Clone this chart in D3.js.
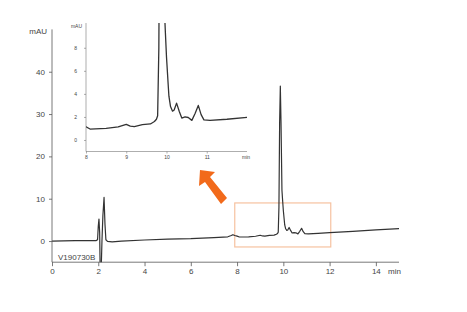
<!DOCTYPE html>
<html>
<head>
<meta charset="utf-8">
<script src="https://cdn.jsdelivr.net/npm/d3@7/dist/d3.min.js"></script>
<style>
  body { margin: 0; background: #fff; }
  text { font-family: "Liberation Sans", Arial, sans-serif; fill: #444; }
</style>
</head>
<body>
<script>
// retention time (min) and absorbance (mAU)
var time = [0, 0.5, 1.0, 1.5, 1.9, 1.97, 2.0, 2.03, 2.06, 2.08, 2.13, 2.16, 2.2, 2.25, 2.29, 2.33,
    2.4, 2.6, 3.0, 4.0, 5.0, 6.0, 7.0, 7.6, 7.75, 7.82, 7.9, 8.0, 8.1, 8.5, 8.8, 9.0, 9.1, 9.2,
    9.4, 9.6, 9.7, 9.75, 9.78, 9.81, 9.84, 9.87, 9.9, 9.94, 9.97, 10.0, 10.04, 10.06, 10.1,
    10.15, 10.19, 10.25, 10.32, 10.38, 10.46, 10.54, 10.63, 10.71, 10.79, 10.86, 10.93,
    11.08, 11.5, 12.0, 13.0, 14.0, 15.0];
var mAU = [0.0, 0.05, 0.1, 0.1, 0.1, 0.3, 3.5, 5.2, 2.0, -6, -6, 0.0, 6.0, 10.3, 4.0, 0.3,
    -0.1, -0.2, 0.0, 0.25, 0.45, 0.55, 0.8, 1.0, 1.3, 1.5, 1.3, 1.15, 0.95, 1.0, 1.13, 1.36, 1.2, 1.15,
    1.33, 1.39, 1.6, 1.8, 2.1, 8, 28, 36.6, 28, 12, 9.5, 7.2, 4.9, 3.8, 2.9,
    2.5, 2.6, 3.2, 2.45, 1.9, 2.0, 1.95, 1.7, 2.3, 3.0, 2.2, 1.74,
    1.7, 1.8, 1.97, 2.3, 2.65, 2.95];

var xTicksMain = [0, 2, 4, 6, 8, 10, 12, 14];
var yTicksMain = [0, 10, 20, 30, 40];
var xTicksInset = [8, 9, 10, 11];
var yTicksInset = [0, 2, 4, 6, 8];
var zoomX = [7.9, 12.05];
var zoomY = [-1.4, 9];
var sampleName = "V190730B";

var w = 467;
var h = 312;

var svg = d3.select("body")
    .append("svg")
    .attr("width", w)
    .attr("height", h);

var data = time.map(function (t, i) { return [t, mAU[i]]; });

// main chromatogram
var xScale = d3.scaleLinear().domain([0, 15]).range([52, 399]);
var yScale = d3.scaleLinear().domain([-5, 50]).range([262.2, 29.4]);

svg.append("clipPath").attr("id", "clipMain")
    .append("rect")
    .attr("x", 52).attr("y", 29.4)
    .attr("width", 347).attr("height", 232.8);

// zoom box
svg.append("rect")
    .attr("x", xScale(zoomX[0]))
    .attr("y", yScale(zoomY[1]))
    .attr("width", xScale(zoomX[1]) - xScale(zoomX[0]))
    .attr("height", yScale(zoomY[0]) - yScale(zoomY[1]))
    .attr("fill", "none")
    .attr("stroke", "#f6c2a0")
    .attr("stroke-width", 1.2);

var line = d3.line()
    .x(function (d) { return xScale(d[0]); })
    .y(function (d) { return yScale(d[1]); });

svg.append("path")
    .datum(data)
    .attr("clip-path", "url(#clipMain)")
    .attr("d", line)
    .attr("fill", "none")
    .attr("stroke", "#333")
    .attr("stroke-width", 1.2)
    .attr("stroke-linejoin", "round");

// axes
var yAxis = d3.axisLeft(yScale).tickValues(yTicksMain).tickSize(3).tickPadding(4);
var yMinor = d3.axisLeft(yScale).tickValues(d3.range(-4, 51, 2)).tickSize(2).tickFormat("");
var gy = svg.append("g").attr("transform", "translate(52,0)");
gy.call(yMinor);
gy.call(yAxis);
gy.selectAll(".domain").attr("d", "M0," + yScale(-5) + "V" + yScale(50));

var xAxis = d3.axisBottom(xScale).tickValues(xTicksMain).tickSize(4).tickPadding(2);
var xMinor = d3.axisBottom(xScale).tickValues(d3.range(1, 16, 2)).tickSize(2).tickFormat("");
var gx = svg.append("g").attr("transform", "translate(0," + yScale(-5) + ")");
gx.call(xMinor);
gx.call(xAxis);
gx.selectAll(".domain").attr("d", "M" + xScale(0) + ",0H" + xScale(15));

svg.selectAll("g .domain, g .tick line").attr("stroke", "#555").attr("stroke-width", 0.8);
svg.selectAll("g .tick text").attr("font-size", "8px").attr("fill", "#444")
    .attr("font-family", "Liberation Sans, Arial, sans-serif");

svg.append("text").text("mAU")
    .attr("x", 47).attr("y", 34)
    .attr("text-anchor", "end")
    .attr("font-size", "8px");
svg.append("text").text("min")
    .attr("x", 388).attr("y", 274)
    .attr("font-size", "8px");
svg.append("text").text(sampleName)
    .attr("x", 58).attr("y", 260)
    .attr("font-size", "8px");

// arrow
svg.append("polygon")
    .attr("points", "200,170 215,172 210,177 227,198 221,204 205,182 199,186")
    .attr("fill", "#f26a1b");

// inset
var xIn = d3.scaleLinear().domain([8, 12]).range([86, 247]);
var yIn = d3.scaleLinear().domain([-1, 10.15]).range([151.5, 23]);

svg.append("clipPath").attr("id", "clipInset")
    .append("rect")
    .attr("x", 86).attr("y", 23)
    .attr("width", 161).attr("height", 128.5);

var lineIn = d3.line()
    .x(function (d) { return xIn(d[0]); })
    .y(function (d) { return yIn(d[1]); });

svg.append("path")
    .datum(data)
    .attr("clip-path", "url(#clipInset)")
    .attr("d", lineIn)
    .attr("fill", "none")
    .attr("stroke", "#333")
    .attr("stroke-width", 1.3)
    .attr("stroke-linejoin", "round");

var gyIn = svg.append("g").attr("class", "inset").attr("transform", "translate(86,0)");
gyIn.call(d3.axisLeft(yIn).tickValues(d3.range(-0.5, 10.1, 0.5)).tickSize(1.5).tickFormat(""));
gyIn.call(d3.axisLeft(yIn).tickValues(yTicksInset).tickSize(2).tickPadding(7).tickFormat(d3.format("d")));
gyIn.selectAll(".domain").attr("d", "M0," + yIn(-1) + "V" + yIn(10.15));

var gxIn = svg.append("g").attr("class", "inset").attr("transform", "translate(0," + yIn(-1) + ")");
gxIn.call(d3.axisBottom(xIn).tickValues(d3.range(8.1, 12.01, 0.1)).tickSize(1.5).tickFormat(""));
gxIn.call(d3.axisBottom(xIn).tickValues(xTicksInset).tickSize(2).tickPadding(1.5).tickFormat(d3.format("d")));
gxIn.selectAll(".domain").attr("d", "M" + xIn(8) + ",0H" + xIn(12));

svg.selectAll("g.inset .domain, g.inset .tick line").attr("stroke", "#777").attr("stroke-width", 0.6);
svg.selectAll("g.inset .tick text").attr("font-size", "5px").attr("fill", "#555");

svg.append("text").text("mAU")
    .attr("x", 82).attr("y", 28)
    .attr("text-anchor", "end")
    .attr("font-size", "5px")
    .attr("fill", "#555");
svg.append("text").text("min")
    .attr("x", 242).attr("y", 159)
    .attr("font-size", "5px")
    .attr("fill", "#555");
</script>
</body>
</html>
